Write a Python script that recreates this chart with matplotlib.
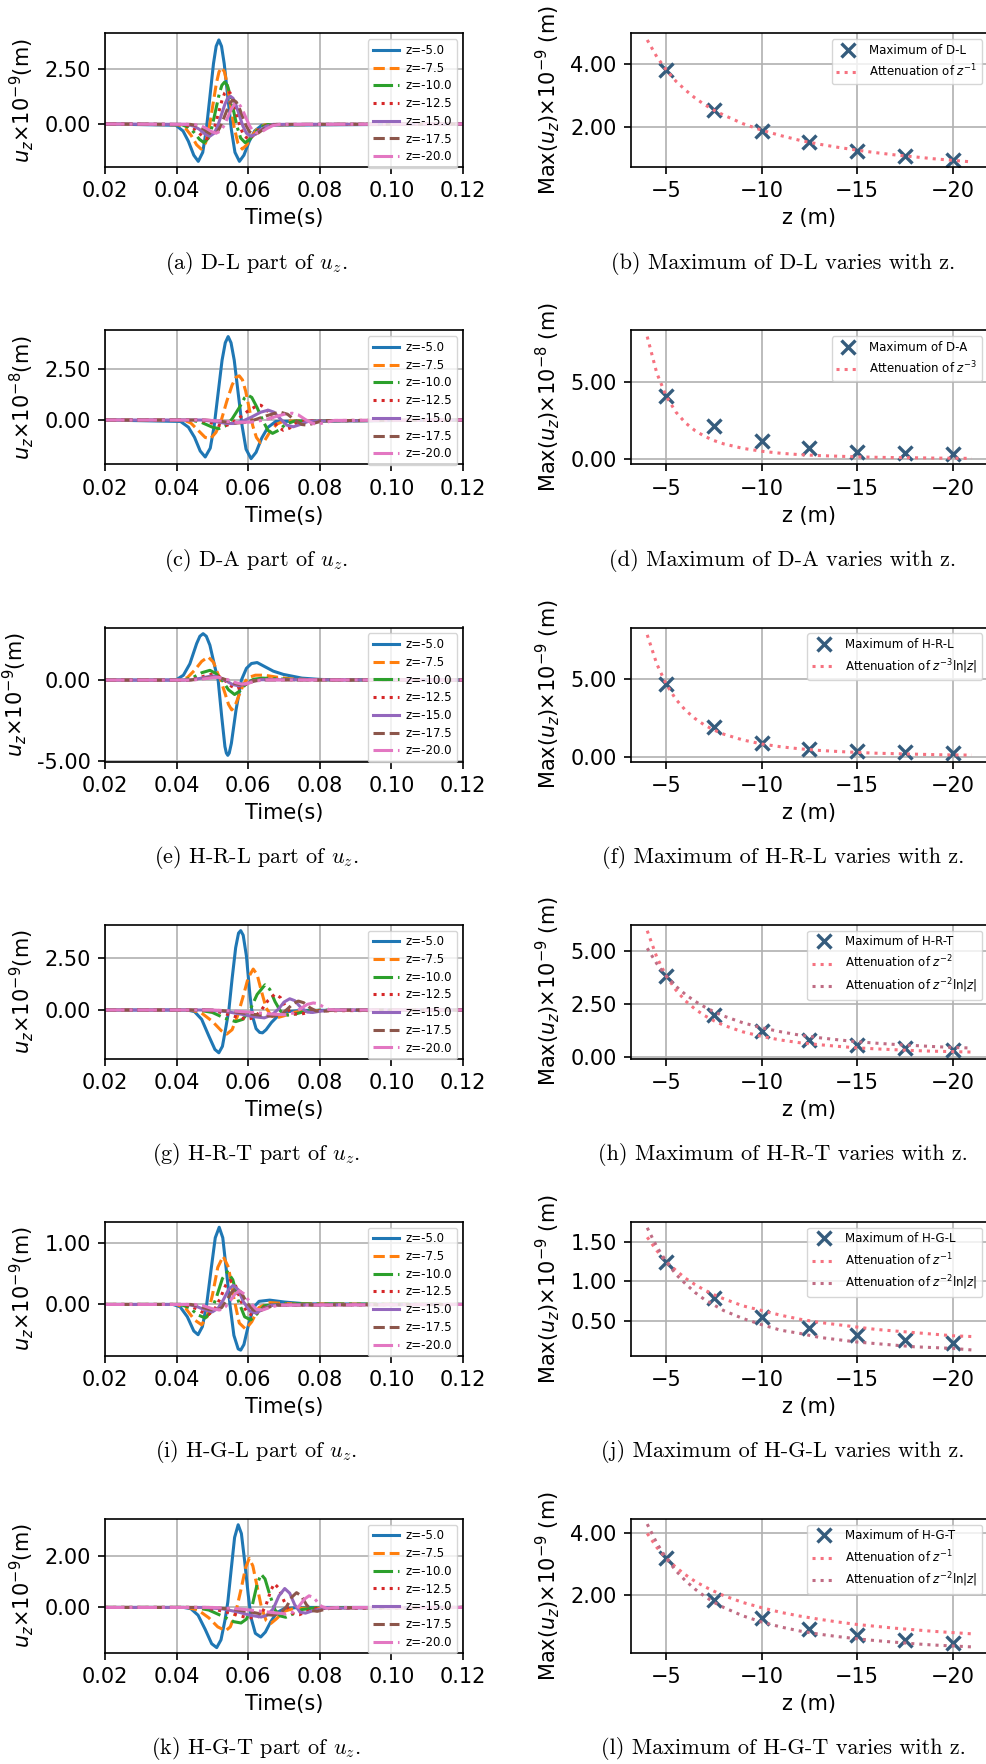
import numpy as np
import matplotlib
matplotlib.use('Agg')
import matplotlib.pyplot as plt
from matplotlib.ticker import FormatStrFormatter

# ---------------------------------------------------------------- style
plt.rcParams.update({'font.size': 15, 'axes.linewidth': 1.2,
                     'xtick.major.size': 5.2, 'ytick.major.size': 5.2,
                     'xtick.major.width': 1.2, 'ytick.major.width': 1.2,
                     'xtick.major.pad': 5, 'ytick.major.pad': 5,
                     'grid.color': '#b0b0b0', 'grid.linewidth': 1.2})

W, H = 987, 1764
fig = plt.figure(figsize=(W / 100, H / 100), dpi=100)

z_names = ['z=-5.0', 'z=-7.5', 'z=-10.0', 'z=-12.5', 'z=-15.0', 'z=-17.5', 'z=-20.0']
colors = ['#1f77b4', '#ff7f0e', '#2ca02c', '#d62728', '#9467bd', '#8c564b', '#e377c2']
styles = ['-', '--', '-.', ':', '-', '--', '-.']

# ---------------------------------------------------------------- waveforms (time in ms)
# D-L
t_dl = [
    [20, 39.8, 41.8, 43.3, 44.8, 46.05, 47.3, 48.3, 49.3, 50.3, 51.05, 51.8, 52.55, 53.3, 54.3, 55.3, 56.3, 57.55, 58.8, 60.3, 61.8, 63.8, 120],
    [20, 40.6, 42.6, 44.1, 45.6, 46.85, 48.1, 49.1, 50.1, 51.1, 51.85, 52.6, 53.35, 54.1, 55.1, 56.1, 57.1, 58.35, 59.6, 61.1, 62.6, 64.6, 120],
    [20, 41.4, 43.4, 44.9, 46.4, 47.65, 48.9, 49.9, 50.9, 51.9, 52.65, 53.4, 54.15, 54.9, 55.9, 56.9, 57.9, 59.15, 60.4, 61.9, 63.4, 65.4, 120],
    [20, 42.2, 44.2, 45.7, 47.2, 48.45, 49.7, 50.7, 51.7, 52.7, 53.45, 54.2, 54.95, 55.7, 56.7, 57.7, 58.7, 59.95, 61.2, 62.7, 64.2, 66.2, 120],
    [20, 43, 45, 46.5, 48, 49.25, 50.5, 51.5, 52.5, 53.5, 54.25, 55, 55.75, 56.5, 57.5, 58.5, 59.5, 60.75, 62, 63.5, 65, 67, 120],
    [20, 43.9, 45.9, 47.4, 48.9, 50.15, 51.4, 52.4, 53.4, 54.4, 55.15, 55.9, 56.65, 57.4, 58.4, 59.4, 60.4, 61.65, 62.9, 64.4, 65.9, 67.9, 120],
    [20, 44.8, 46.8, 48.3, 49.8, 51.05, 52.3, 53.3, 54.3, 55.3, 56.05, 56.8, 57.55, 58.3, 59.3, 60.3, 61.3, 62.55, 63.8, 65.3, 66.8, 68.8, 120],
]
u_dl = [
    [0, -0.06, -0.32, -0.79, -1.42, -1.70, -1.29, -0.26, 1.23, 2.74, 3.53, 3.82, 3.53, 2.74, 1.23, -0.26, -1.29, -1.70, -1.42, -0.79, -0.32, -0.06, 0],
    [0, -0.04, -0.22, -0.53, -0.95, -1.14, -0.86, -0.17, 0.83, 1.84, 2.37, 2.56, 2.37, 1.84, 0.83, -0.17, -0.86, -1.14, -0.95, -0.53, -0.22, -0.04, 0],
    [0, -0.03, -0.16, -0.39, -0.70, -0.85, -0.64, -0.13, 0.61, 1.36, 1.76, 1.90, 1.76, 1.36, 0.61, -0.13, -0.64, -0.85, -0.70, -0.39, -0.16, -0.03, 0],
    [0, -0.03, -0.13, -0.31, -0.56, -0.68, -0.51, -0.10, 0.49, 1.09, 1.41, 1.52, 1.41, 1.09, 0.49, -0.10, -0.51, -0.68, -0.56, -0.31, -0.13, -0.03, 0],
    [0, -0.02, -0.11, -0.26, -0.47, -0.56, -0.42, -0.09, 0.41, 0.90, 1.17, 1.26, 1.17, 0.90, 0.41, -0.09, -0.42, -0.56, -0.47, -0.26, -0.11, -0.02, 0],
    [0, -0.02, -0.09, -0.22, -0.40, -0.48, -0.36, -0.07, 0.35, 0.77, 1.00, 1.08, 1.00, 0.77, 0.35, -0.07, -0.36, -0.48, -0.40, -0.22, -0.09, -0.02, 0],
    [0, -0.02, -0.08, -0.20, -0.35, -0.42, -0.32, -0.06, 0.31, 0.68, 0.88, 0.95, 0.88, 0.68, 0.31, -0.06, -0.32, -0.42, -0.35, -0.20, -0.08, -0.02, 0],
]

# D-A
t_da = [
    [20, 41.1, 43.3, 45.0, 46.6, 48.0, 49.4, 50.5, 51.6, 52.7, 53.6, 54.4, 55.2, 56.1, 57.2, 58.3, 59.4, 60.8, 62.2, 63.8, 65.5, 67.7, 120],
    [20, 42, 44, 46, 48, 49.5, 51, 52.5, 54, 55.5, 56.6, 57.5, 58.4, 59.3, 60.3, 61.3, 62.3, 63.4, 64.6, 66, 68, 70, 120],
    [20, 44, 47, 50, 51.8, 53.5, 55.5, 57.5, 59, 60, 61, 62.5, 64, 65.5, 66.8, 68.5, 70.5, 73, 120],
    [20, 46, 49, 51.5, 53.2, 55, 57.5, 60, 62.5, 63.5, 65, 66.5, 68, 69.8, 71.5, 73.5, 76, 120],
    [20, 47, 51, 54, 56, 58.5, 61, 63.5, 65.6, 67.2, 69, 70.8, 72.6, 74.5, 77, 120],
    [20, 48, 53, 56.5, 59, 62, 65, 67.5, 69.2, 71, 73, 75, 76.5, 78.5, 81, 120],
    [20, 48, 53, 57, 61, 64.5, 68, 70.5, 72.3, 74, 76, 78, 79.5, 81.5, 84, 120],
]
u_da = [
    [0, -0.07, -0.35, -0.84, -1.51, -1.80, -1.37, -0.28, 1.31, 2.91, 3.76, 4.06, 3.76, 2.91, 1.31, -0.29, -1.42, -1.88, -1.57, -0.87, -0.36, -0.07, 0],
    [0, 0, -0.15, -0.5, -0.85, -0.9, -0.6, 0, 0.9, 1.7, 2.08, 2.15, 1.95, 1.4, 0.55, -0.3, -0.85, -1.1, -1.0, -0.6, -0.2, -0.05, 0],
    [0, 0, -0.12, -0.35, -0.42, -0.3, 0.05, 0.6, 1.08, 1.2, 1.1, 0.6, 0, -0.5, -0.65, -0.5, -0.2, -0.05, 0],
    [0, 0, -0.1, -0.25, -0.3, -0.2, 0.1, 0.45, 0.7, 0.72, 0.55, 0.15, -0.3, -0.5, -0.4, -0.15, -0.03, 0],
    [0, 0, -0.08, -0.17, -0.17, -0.05, 0.15, 0.38, 0.48, 0.38, 0.05, -0.25, -0.33, -0.22, -0.05, 0],
    [0, 0, -0.08, -0.15, -0.12, 0.02, 0.2, 0.33, 0.37, 0.28, 0.0, -0.22, -0.25, -0.15, -0.03, 0],
    [0, 0, -0.06, -0.12, -0.1, 0.0, 0.18, 0.3, 0.33, 0.25, 0.02, -0.17, -0.2, -0.12, -0.02, 0],
]

# H-R-L
t_hrl = [
    [20, 38, 40, 41.9, 43.7, 45.6, 46.5, 47.4, 48.3, 49.3, 50.7, 51.6, 52.6, 53.5, 53.9, 54.3, 54.7, 55.3, 56.6, 58.1, 59.5, 60.9, 62.5, 64.7, 67, 69.8, 75, 80, 85, 120],
    [20, 41, 43, 45, 47, 48.8, 50.3, 51.5, 52.3, 53.5, 54.5, 55.4, 56.3, 57.5, 58.8, 60, 62, 64.5, 68, 72, 78, 120],
    [20, 42, 44.5, 47, 49.3, 51, 52.7, 54.5, 56.2, 57.8, 59.5, 61.5, 64, 68, 74, 120],
    [20, 43, 46, 48.5, 50.2, 52, 53.3, 55.3, 56.8, 58.5, 60.3, 62.5, 66, 72, 120],
    [20, 43.5, 46.5, 49, 50.5, 52.2, 53.5, 55.5, 57.3, 59, 61, 63.5, 70, 120],
    [20, 44, 47, 49.6, 51.1, 52.7, 54.1, 56.1, 57.8, 59.6, 61.6, 64, 120],
    [20, 44.5, 47.5, 50, 51.7, 53.2, 54.7, 56.7, 58.3, 60.1, 62.2, 65, 120],
]
u_hrl = [
    [0, 0, 0.03, 0.3, 1.0, 2.25, 2.7, 2.86, 2.7, 2.15, 0.8, 0.0, -2.25, -4.1, -4.5, -4.64, -4.5, -3.9, -1.84, 0.0, 0.72, 1.02, 1.08, 0.82, 0.55, 0.35, 0.12, 0.04, 0.01, 0],
    [0, 0, 0.15, 0.6, 1.15, 1.43, 1.1, 0.4, 0, -0.8, -1.5, -1.84, -1.6, -0.9, -0.2, 0.15, 0.3, 0.3, 0.18, 0.07, 0.02, 0],
    [0, 0, 0.15, 0.45, 0.6, 0.4, 0, -0.6, -0.89, -0.65, -0.2, 0.05, 0.12, 0.08, 0.02, 0],
    [0, 0, 0.12, 0.3, 0.37, 0.2, 0, -0.38, -0.54, -0.4, -0.12, 0.02, 0.06, 0.02, 0],
    [0, 0, 0.1, 0.22, 0.25, 0.13, 0, -0.26, -0.36, -0.27, -0.08, 0.02, 0.02, 0],
    [0, 0, 0.08, 0.18, 0.2, 0.1, 0, -0.2, -0.29, -0.22, -0.06, 0.01, 0],
    [0, 0, 0.07, 0.15, 0.17, 0.08, 0, -0.17, -0.25, -0.19, -0.05, 0.01, 0],
]

# H-R-T
t_hrt = [
    [20, 43, 45, 47, 49, 50.7, 51.8, 52.8, 53.8, 54.6, 55.5, 56.5, 57.3, 57.9, 58.6, 59.5, 60.5, 61.2, 62.2, 63.2, 64, 65, 66.5, 68.5, 71, 75, 120],
    [20, 44, 47, 50, 52.5, 54, 55.5, 57, 58.5, 60, 61.4, 62.5, 63.7, 65, 66.5, 68.3, 70, 72.5, 76, 120],
    [20, 46, 50, 53.5, 56.5, 58.5, 60.5, 62.5, 64.7, 66, 67.5, 69, 71, 73, 76, 80, 120],
    [20, 48, 52, 56, 59.5, 61.5, 63.5, 65.5, 67.5, 69, 70.5, 72, 74, 76, 79, 120],
    [20, 49, 54, 58, 61.5, 64.5, 66.5, 68.5, 70, 71.6, 73, 74.8, 76.5, 78, 80.5, 84, 120],
    [20, 50, 55, 60, 64, 67.3, 69.3, 71, 72.5, 74, 75.5, 77.3, 79, 81, 84, 120],
    [20, 50, 56, 62, 67, 70.5, 72.5, 74.5, 76.5, 78.2, 79.5, 81, 82.5, 85, 120],
]
u_hrt = [
    [0, 0, -0.08, -0.45, -1.25, -1.9, -2.06, -1.75, -0.8, 0, 1.5, 3.0, 3.7, 3.82, 3.6, 2.6, 0.7, -0.3, -0.9, -1.08, -1.1, -0.95, -0.6, -0.25, -0.08, -0.02, 0],
    [0, 0, -0.15, -0.55, -1.0, -1.16, -0.95, -0.3, 0.6, 1.55, 1.97, 1.7, 0.9, 0.1, -0.3, -0.36, -0.28, -0.12, -0.03, 0],
    [0, 0, -0.12, -0.4, -0.56, -0.45, 0, 0.75, 1.21, 1.0, 0.4, -0.05, -0.25, -0.2, -0.06, -0.01, 0],
    [0, 0, -0.1, -0.3, -0.45, -0.38, -0.05, 0.45, 0.77, 0.6, 0.15, -0.15, -0.22, -0.15, -0.04, 0],
    [0, 0, -0.08, -0.2, -0.32, -0.38, -0.25, 0.05, 0.38, 0.54, 0.45, 0.1, -0.1, -0.12, -0.05, 0, 0],
    [0, 0, -0.06, -0.18, -0.26, -0.3, -0.2, 0.05, 0.3, 0.43, 0.35, 0.1, -0.05, -0.06, 0, 0],
    [0, 0, -0.05, -0.13, -0.2, -0.23, -0.15, 0.05, 0.27, 0.34, 0.3, 0.15, 0.02, 0, 0],
]

# H-G-L
t_hgl = [
    [20, 39, 41, 43, 44.8, 46, 47.2, 48.4, 49.6, 50.8, 51.9, 52.9, 54, 54.9, 56, 57.2, 57.9, 58.8, 60, 61.5, 63, 66, 70, 76, 120],
    [20, 40, 42.5, 45, 47, 48.5, 50, 51.5, 53, 54.5, 56, 57.5, 59.3, 61, 63, 66, 72, 120],
    [20, 41, 43.5, 46, 48, 49.6, 51.2, 52.8, 54.2, 55.7, 57.3, 59, 60.7, 62.5, 64.5, 70, 120],
    [20, 42, 44.5, 47, 49, 50.6, 52.2, 53.7, 55, 56.5, 58, 59.8, 61.5, 63.3, 65.5, 120],
    [20, 43, 45.5, 48, 50, 51.6, 53.1, 54.5, 55.8, 57.2, 58.7, 60.5, 62.2, 64, 66.5, 120],
    [20, 44, 46.5, 49, 51, 52.6, 54, 55.4, 56.6, 58, 59.6, 61.4, 63, 65, 67.5, 120],
    [20, 45, 47.5, 50, 52, 53.6, 55, 56.3, 57.5, 58.9, 60.5, 62.3, 64, 66, 68.5, 120],
]
u_hgl = [
    [0, 0, -0.04, -0.2, -0.43, -0.49, -0.36, 0, 0.55, 1.08, 1.25, 1.08, 0.5, 0, -0.5, -0.72, -0.74, -0.65, -0.35, -0.05, 0.05, 0.07, 0.04, 0.01, 0],
    [0, 0, -0.06, -0.25, -0.33, -0.2, 0.15, 0.6, 0.78, 0.6, 0.1, -0.3, -0.4, -0.28, -0.05, 0.03, 0.01, 0],
    [0, 0, -0.05, -0.17, -0.22, -0.12, 0.13, 0.42, 0.53, 0.4, 0.05, -0.2, -0.25, -0.15, -0.02, 0.01, 0],
    [0, 0, -0.04, -0.12, -0.16, -0.08, 0.1, 0.31, 0.39, 0.3, 0.05, -0.14, -0.18, -0.1, -0.01, 0],
    [0, 0, -0.03, -0.09, -0.12, -0.06, 0.08, 0.24, 0.31, 0.24, 0.04, -0.11, -0.14, -0.08, -0.01, 0],
    [0, 0, -0.03, -0.08, -0.1, -0.05, 0.07, 0.2, 0.26, 0.2, 0.03, -0.09, -0.11, -0.06, -0.01, 0],
    [0, 0, -0.02, -0.07, -0.09, -0.04, 0.06, 0.17, 0.22, 0.17, 0.03, -0.08, -0.09, -0.05, -0.01, 0],
]

# H-G-T
t_hgt = [
    [20, 42, 44, 46, 48, 49.8, 51.2, 52.4, 53.5, 54.3, 55.2, 56.2, 57.2, 58.1, 59, 60, 60.8, 62, 63.5, 64.8, 66.3, 68, 70, 74, 120],
    [20, 43, 46, 49, 51.5, 53.7, 55, 56.5, 58, 59.3, 60.3, 61.3, 62.5, 63.7, 65, 66.3, 67.8, 70, 73, 120],
    [20, 45, 49, 53, 56, 58, 59.5, 61, 62.5, 63.6, 64.7, 66, 67.5, 69, 70.5, 72.5, 75, 79, 120],
    [20, 47, 51, 55, 59, 62, 63.5, 65, 66.3, 67.3, 68.5, 70, 71.5, 73, 74.3, 76.3, 79, 120],
    [20, 48, 53, 57, 60.5, 63.6, 65.3, 67, 68.6, 70.2, 71.6, 73, 74.5, 76, 78, 81, 120],
    [20, 49, 55, 60, 64, 67, 69, 70.8, 72.2, 73.5, 74.8, 76.3, 77.8, 79.3, 81.5, 84, 120],
    [20, 50, 57, 62, 67, 70.5, 72.5, 74.2, 75.7, 77, 78.3, 79.5, 80.5, 82, 85, 120],
]
u_hgt = [
    [0, 0, -0.05, -0.3, -0.85, -1.4, -1.55, -1.25, -0.5, 0.2, 1.4, 2.7, 3.19, 2.85, 1.8, 0.5, -0.4, -1.0, -1.14, -0.95, -0.55, -0.2, -0.05, 0, 0],
    [0, 0, -0.1, -0.4, -0.75, -0.9, -0.75, -0.2, 0.7, 1.55, 1.89, 1.6, 0.8, 0, -0.5, -0.62, -0.45, -0.15, -0.03, 0],
    [0, 0, -0.1, -0.35, -0.55, -0.6, -0.45, 0, 0.9, 1.28, 1.1, 0.5, -0.1, -0.33, -0.38, -0.25, -0.08, -0.01, 0],
    [0, 0, -0.08, -0.22, -0.37, -0.42, -0.3, 0.1, 0.65, 0.92, 0.75, 0.25, -0.15, -0.27, -0.28, -0.16, -0.04, 0],
    [0, 0, -0.06, -0.17, -0.3, -0.37, -0.3, -0.05, 0.45, 0.73, 0.55, 0.1, -0.18, -0.22, -0.13, -0.03, 0],
    [0, 0, -0.06, -0.16, -0.26, -0.3, -0.22, 0.05, 0.4, 0.57, 0.45, 0.1, -0.12, -0.15, -0.07, -0.01, 0],
    [0, 0, -0.05, -0.12, -0.2, -0.25, -0.18, 0.05, 0.32, 0.45, 0.38, 0.18, 0.04, -0.03, 0, 0],
]

# ---------------------------------------------------------------- maxima vs z
z_max = [-5, -7.5, -10, -12.5, -15, -17.5, -20]
z_att = [-4, -4.5, -5, -5.5, -6, -6.5, -7, -7.5, -8, -9, -10, -11, -12, -13, -14, -15, -16, -17, -18, -19, -20, -21]

max_dl = [3.8, 2.53, 1.89, 1.53, 1.26, 1.08, 0.95]
att_dl = [4.75, 4.22, 3.8, 3.45, 3.17, 2.92, 2.71, 2.53, 2.38, 2.11, 1.9, 1.73, 1.58, 1.46, 1.36, 1.27, 1.19, 1.12, 1.06, 1.0, 0.95, 0.90]
max_da = [4.06, 2.15, 1.19, 0.72, 0.48, 0.37, 0.33]
att_da = [7.93, 5.57, 4.06, 3.05, 2.35, 1.85, 1.48, 1.20, 0.99, 0.70, 0.51, 0.38, 0.29, 0.23, 0.19, 0.15, 0.12, 0.10, 0.09, 0.07, 0.06, 0.05]
max_hrl = [4.64, 1.90, 0.89, 0.54, 0.36, 0.29, 0.25]
att_hrl = [7.81, 5.95, 4.64, 3.69, 2.99, 2.46, 2.04, 1.72, 1.46, 1.09, 0.83, 0.65, 0.52, 0.42, 0.35, 0.29, 0.24, 0.21, 0.18, 0.15, 0.13, 0.12]
max_hrt = [3.82, 1.97, 1.21, 0.77, 0.54, 0.43, 0.32]
att_hrt = [5.97, 4.72, 3.82, 3.16, 2.65, 2.26, 1.95, 1.70, 1.49, 1.18, 0.96, 0.79, 0.66, 0.57, 0.49, 0.42, 0.37, 0.33, 0.29, 0.26, 0.24, 0.22]
att_hrt_ln = [5.14, 4.41, 3.82, 3.34, 2.95, 2.63, 2.36, 2.13, 1.93, 1.61, 1.37, 1.18, 1.02, 0.90, 0.80, 0.71, 0.64, 0.58, 0.53, 0.48, 0.44, 0.41]
max_hgl = [1.25, 0.79, 0.55, 0.41, 0.32, 0.26, 0.22]
att_hgl = [1.56, 1.39, 1.25, 1.14, 1.04, 0.96, 0.89, 0.83, 0.78, 0.69, 0.63, 0.57, 0.52, 0.48, 0.45, 0.42, 0.39, 0.37, 0.35, 0.33, 0.31, 0.30]
att_hgl_ln = [1.68, 1.44, 1.25, 1.09, 0.97, 0.86, 0.77, 0.70, 0.63, 0.53, 0.45, 0.38, 0.34, 0.29, 0.26, 0.23, 0.21, 0.19, 0.17, 0.16, 0.15, 0.13]
max_hgt = [3.19, 1.84, 1.28, 0.92, 0.73, 0.57, 0.45]
att_hgt = [3.99, 3.54, 3.19, 2.90, 2.66, 2.45, 2.28, 2.13, 1.99, 1.77, 1.60, 1.45, 1.33, 1.23, 1.14, 1.06, 1.00, 0.94, 0.89, 0.84, 0.80, 0.76]
att_hgt_ln = [4.29, 3.68, 3.19, 2.79, 2.47, 2.20, 1.97, 1.77, 1.61, 1.34, 1.14, 0.98, 0.85, 0.75, 0.67, 0.60, 0.54, 0.49, 0.44, 0.40, 0.37, 0.34]

# ---------------------------------------------------------------- panel settings
left_panels = [
    (t_dl, u_dl, -9, (-1.97, 4.12), [0, 2.5], '(a) D-L part of $u_z$.'),
    (t_da, u_da, -8, (-2.16, 4.36), [0, 2.5], '(c) D-A part of $u_z$.'),
    (t_hrl, u_hrl, -9, (-5.02, 3.24), [-5, 0], '(e) H-R-L part of $u_z$.'),
    (t_hrt, u_hrt, -9, (-2.34, 4.11), [0, 2.5], '(g) H-R-T part of $u_z$.'),
    (t_hgl, u_hgl, -9, (-0.83, 1.34), [0, 1], '(i) H-G-L part of $u_z$.'),
    (t_hgt, u_hgt, -9, (-1.75, 3.42), [0, 2], '(k) H-G-T part of $u_z$.'),
]
right_panels = [
    ('D-L', max_dl, [(att_dl, '$z^{-1}$')], -9, (0.73, 4.96), [2, 4], '(b)'),
    ('D-A', max_da, [(att_da, '$z^{-3}$')], -8, (-0.34, 8.33), [0, 5], '(d)'),
    ('H-R-L', max_hrl, [(att_hrl, r'$z^{-3}\ln|z|$')], -9, (-0.29, 8.28), [0, 5], '(f)'),
    ('H-R-T', max_hrt, [(att_hrt, '$z^{-2}$'), (att_hrt_ln, r'$z^{-2}\ln|z|$')], -9, (-0.09, 6.26), [0, 2.5, 5], '(h)'),
    ('H-G-L', max_hgl, [(att_hgl, '$z^{-1}$'), (att_hgl_ln, r'$z^{-2}\ln|z|$')], -9, (0.057, 1.757), [0.5, 1.0, 1.5], '(j)'),
    ('H-G-T', max_hgt, [(att_hgt, '$z^{-1}$'), (att_hgt_ln, r'$z^{-2}\ln|z|$')], -9, (0.15, 4.46), [2, 4], '(l)'),
]
att_colors = ['#F67280', '#C06C84']
mark_color = '#355C7D'


def box(x0, y0, w, h):
    return [x0 / W, 1 - (y0 + h) / H, w / W, h / H]


def caption(xc, yc, s):
    fig.text(xc / W, 1 - yc / H, s, ha='center', va='center', fontsize=16,
             family='cmr10', math_fontfamily='cm')


for k in range(6):
    top = 33.3 + k * 297.1

    # left: waveforms ---------------------------------------------------
    t_list, u_list, expo, ylim, yt, cap = left_panels[k]
    ax = fig.add_axes(box(105, top, 358, 134))
    for i in range(7):
        ax.plot(np.array(t_list[i]) / 1000, u_list[i], linestyle=styles[i],
                color=colors[i], lw=2.2, label=z_names[i])
    ax.set_xlim(0.02, 0.12)
    ax.set_ylim(ylim)
    ax.set_xticks([0.02, 0.04, 0.06, 0.08, 0.10, 0.12])
    ax.set_yticks(yt)
    ax.yaxis.set_major_formatter(FormatStrFormatter('%.2f'))
    ax.grid(True)
    ax.set_xlabel('Time(s)', labelpad=5)
    ax.set_ylabel(r'$u_z$×10$^{%d}$(m)' % expo, labelpad=6)
    ax.legend(loc='upper right', fontsize=8.5, labelspacing=0.4,
              handlelength=2.2, handletextpad=0.6, borderpad=0.4)
    caption(256, top + 230, cap)

    # right: maxima vs z ------------------------------------------------
    name, mx, atts, expo, ylim, yt, lab = right_panels[k]
    ax = fig.add_axes(box(631, top, 357, 134))
    ax.plot(z_max, mx, 'x', color=mark_color, ms=10, mew=2.4,
            label='Maximum of ' + name)
    for j, (vals, txt) in enumerate(atts):
        ax.plot(z_att, vals, ':', color=att_colors[j], lw=2.2,
                label='Attenuation of ' + txt)
    ax.set_xlim(-3.15, -21.85)
    ax.set_ylim(ylim)
    ax.set_xticks([-5, -10, -15, -20])
    ax.set_yticks(yt)
    ax.yaxis.set_major_formatter(FormatStrFormatter('%.2f'))
    ax.grid(True)
    ax.set_xlabel('z (m)', labelpad=5)
    ax.set_ylabel(r'Max($u_z$)×10$^{%d}$ (m)' % expo, labelpad=6)
    ax.legend(loc='upper right', fontsize=8.5)
    caption(783, top + 230, lab + ' Maximum of ' + name + ' varies with z.')

fig.savefig('out.png', dpi=100)
